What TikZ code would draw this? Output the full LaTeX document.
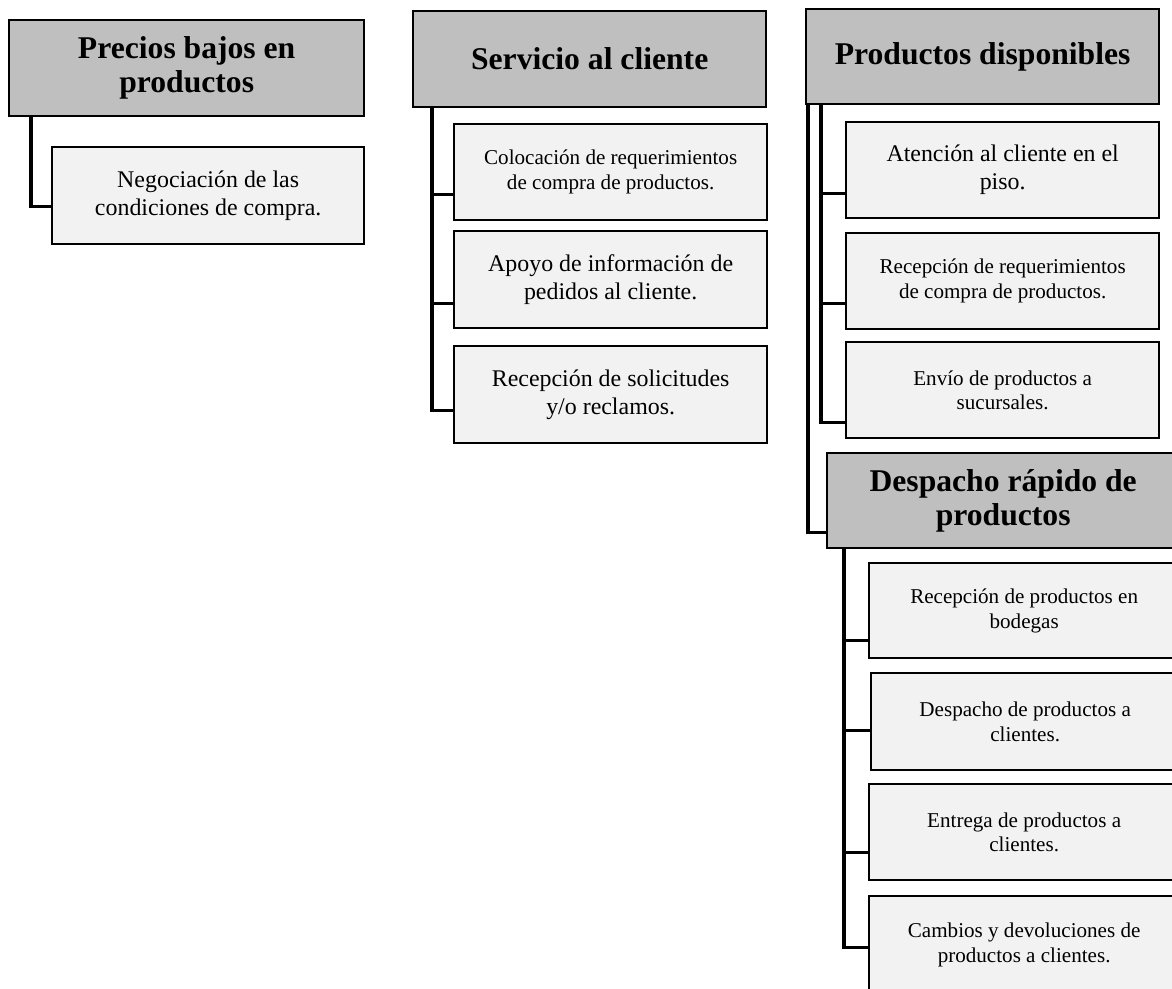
\documentclass[tikz,border=0pt]{standalone}
\usepackage{fontspec}
\setmainfont{Liberation Serif}
\usetikzlibrary{positioning, calc}
\definecolor{headgray}{HTML}{BFBFBF}
\definecolor{itemgray}{HTML}{F2F2F2}

\begin{document}
\begin{tikzpicture}[
  x=0.025cm, y=-0.025cm,
  head/.style={rectangle, draw, line width=1.6pt, fill=headgray, anchor=north west, align=center, inner sep=0pt, font=\bfseries\fontsize{22.5}{24.5}\selectfont},
  item/.style={rectangle, draw, line width=1.6pt, fill=itemgray, anchor=north west, align=center, inner sep=0pt, font=\fontsize{15}{17.5}\selectfont},
  big/.style={font=\fontsize{17}{20}\selectfont},
  link/.style={line width=2.2pt},
]
  \useasboundingbox (0,0) rectangle (1172,988);

  \node[head, minimum width=8.875cm, minimum height=2.4cm] (precios) at (8,19) {Precios bajos en\\productos};
  \node[item, big, minimum width=7.8cm, minimum height=2.425cm] (negoc) at (51,146) {Negociación de las\\condiciones de compra.};

  \node[head, minimum width=8.825cm, minimum height=2.4cm] (servicio) at (412,10) {Servicio al cliente};
  \node[item, minimum width=7.825cm, minimum height=2.4cm] (coloc) at (453,123) {Colocación de requerimientos\\de compra de productos.};
  \node[item, big, minimum width=7.825cm, minimum height=2.425cm] (apoyo) at (453,230) {Apoyo de información de\\pedidos al cliente.};
  \node[item, big, minimum width=7.825cm, minimum height=2.425cm] (solic) at (453,345) {Recepción de solicitudes\\y/o reclamos.};

  \node[head, minimum width=8.825cm, minimum height=2.375cm] (disp) at (805,8) {Productos disponibles};
  \node[item, big, minimum width=7.825cm, minimum height=2.4cm] (atenc) at (845,121) {Atención al cliente en el\\piso.};
  \node[item, minimum width=7.825cm, minimum height=2.4cm] (requer) at (845,232) {Recepción de requerimientos\\de compra de productos.};
  \node[item, minimum width=7.825cm, minimum height=2.4cm] (envio) at (845,341) {Envío de productos a\\sucursales.};

  \node[head, minimum width=8.8cm, minimum height=2.375cm] (despacho) at (826,452) {Despacho rápido de\\productos};
  \node[item, minimum width=7.75cm, minimum height=2.375cm] (bodega) at (868,562) {Recepción de productos en\\bodegas};
  \node[item, minimum width=7.7cm, minimum height=2.425cm] (clientes) at (870,672) {Despacho de productos a\\clientes.};
  \node[item, minimum width=7.75cm, minimum height=2.4cm] (entrega) at (868,783) {Entrega de productos a\\clientes.};
  \node[item, minimum width=7.75cm, minimum height=2.425cm] (cambios) at (868,895) {Cambios y devoluciones de\\productos a clientes.};

  % precios bajos
  \draw[link] ($(precios.south west)+(23,0)$) |- ($(negoc.west)+(0,10.5)$);

  % servicio al cliente
  \draw[link] ($(servicio.south west)+(20,0)$) |- ($(coloc.west)+(0,22)$);
  \draw[link] ($(servicio.south west)+(20,0)$) |- ($(apoyo.west)+(0,23.5)$);
  \draw[link] ($(servicio.south west)+(20,0)$) |- ($(solic.west)+(0,15.5)$);

  % productos disponibles
  \draw[link] ($(disp.south west)+(16,0)$) |- ($(atenc.west)+(0,23)$);
  \draw[link] ($(disp.south west)+(16,0)$) |- ($(requer.west)+(0,22)$);
  \draw[link] ($(disp.south west)+(16,0)$) |- ($(envio.west)+(0,32)$);
  \draw[link] ($(disp.south west)+(3,0)$) |- ($(despacho.west)+(0,31.5)$);

  % despacho rapido
  \draw[link] ($(despacho.south west)+(18,0)$) |- ($(bodega.west)+(0,29.5)$);
  \draw[link] ($(despacho.south west)+(18,0)$) |- ($(clientes.west)+(0,8.5)$);
  \draw[link] ($(despacho.south west)+(18,0)$) |- ($(entrega.west)+(0,20)$);
  \draw[link] ($(despacho.south west)+(18,0)$) |- ($(cambios.west)+(0,2.5)$);
\end{tikzpicture}
\end{document}
